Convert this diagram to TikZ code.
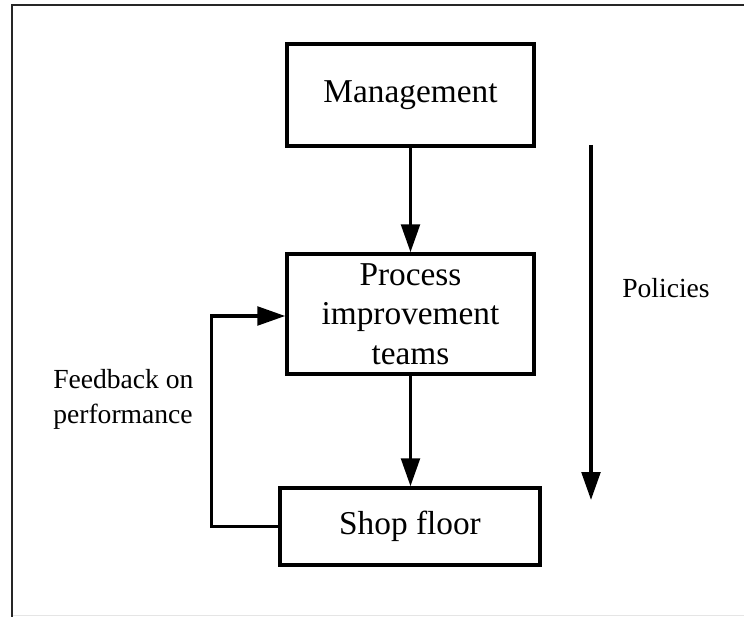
\documentclass[tikz,border=0pt]{standalone}
\usepackage{fontspec}
\setmainfont{Liberation Serif}
\usetikzlibrary{arrows.meta}
\begin{document}
\begin{tikzpicture}[x=0.75pt,y=-0.75pt,
  box/.style={draw, line width=2.6pt, inner sep=0pt, align=center, font=\fontsize{25}{29.6}\selectfont},
  conn/.style={line width=2.6pt, -{Triangle[length=21pt,width=14pt]}},
  lbl/.style={inner sep=0pt, align=left, font=\fontsize{20.7}{26.25}\selectfont},
  outerframe/.style={line width=1.2pt, draw=black!85},
  faintedge/.style={line width=0.75pt, draw=black!10}]
\useasboundingbox (0,0) rectangle (744,617);
% outer frame (top and left edges)
\coordinate (ftr) at (744,5);
\coordinate (ftl) at (12,5);
\coordinate (fbl) at (12,617);
\coordinate (ebl) at (12,615.5);
\coordinate (ebr) at (744,615.5);
\draw[faintedge] (ebl) -- (ebr);
\draw[outerframe] (ftr) -- (ftl) -- (fbl);
% boxes
\node[box, minimum width=185.25pt, minimum height=76.5pt] (mgmt) at (410.5,95) {Management};
\node[box, minimum width=185.25pt, minimum height=90pt] (proc) at (410.5,314) {Process\\improvement\\teams};
\node[box, minimum width=195pt, minimum height=57.75pt] (shop) at (410,526.5) {Shop floor};
% connectors
\draw[conn] (mgmt.south) -- (proc.north);
\draw[conn] (proc.south) -- (proc.south |- shop.north);
\draw[conn] (shop.west) -- ++(-67,0) |- ([yshift=-1.5pt]proc.west);
\coordinate (ptop) at (591,145);
\coordinate (pbot) at (591,500);
\draw[conn] (ptop) -- (pbot);
% labels
\node[lbl, anchor=base west] (fb) at (53,423) {Feedback on\\performance};
\node[lbl, anchor=base west] (pol) at (622,297) {Policies};
\end{tikzpicture}
\end{document}
